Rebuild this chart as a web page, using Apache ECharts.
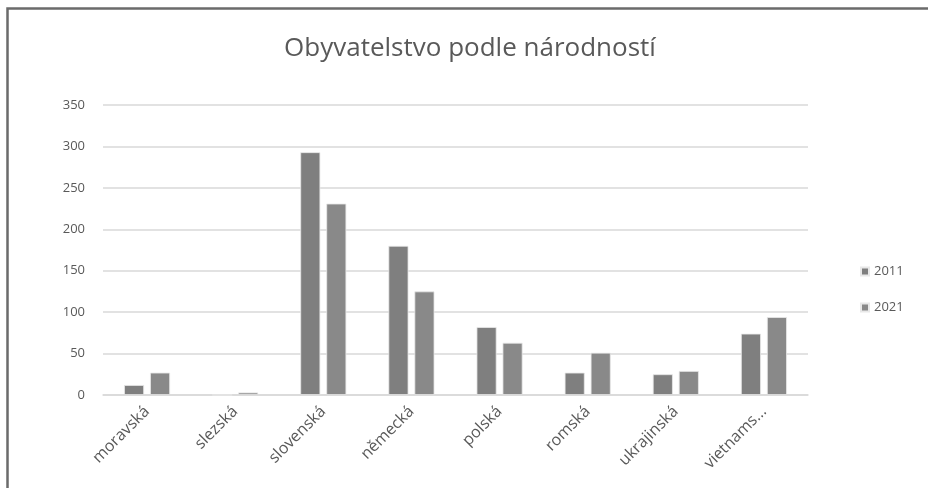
<!DOCTYPE html>
<html>
<head>
<meta charset="utf-8">
<script src="https://cdn.jsdelivr.net/npm/echarts@6/dist/echarts.min.js"></script>
<style>
  html, body { margin: 0; padding: 0; background: #fff; }
  #main { width: 928px; height: 488px; }
</style>
</head>
<body>
<div id="main"></div>
<script>
// data
var categories = ['moravská', 'slezská', 'slovenská', 'německá', 'polská', 'romská', 'ukrajinská', 'vietnams...'];
var values2011 = [12, 0, 293, 180, 82, 27, 25, 74];
var values2021 = [27, 3, 231, 125, 63, 51, 29, 94];
var yTicks = [0, 50, 100, 150, 200, 250, 300, 350];

var font = '"Open Sans", sans-serif';
var textColor = '#595959';

var myChart = echarts.init(document.getElementById('main'));

myChart.setOption({
  animation: false,
  backgroundColor: '#fff',
  title: {
    text: 'Obyvatelstvo podle národností',
    left: 465,
    textAlign: 'center',
    top: 31,
    textStyle: { fontFamily: font, fontSize: 26, fontWeight: 'normal', color: textColor }
  },
  // outer frame, only top and left edges fall inside the window
  graphic: [{
    type: 'rect',
    shape: { x: 7.5, y: 8.5, width: 940, height: 500 },
    style: { fill: 'none', stroke: '#6b6b6b', lineWidth: 2.5 },
    silent: true
  }],
  legend: {
    orient: 'vertical',
    left: 855,
    top: 260,
    itemGap: 23,
    itemWidth: 8,
    itemHeight: 8,
    icon: 'rect',
    textStyle: { fontFamily: font, fontSize: 13, color: textColor }
  },
  grid: { left: 103, right: 120, top: 105, bottom: 93, containLabel: false },
  xAxis: {
    type: 'category',
    data: categories,
    axisLine: { lineStyle: { color: '#d9d9d9', width: 1.5 } },
    axisTick: { show: false },
    axisLabel: {
      interval: 0,
      rotate: 45,
      margin: 14,
      fontFamily: font,
      fontSize: 16,
      color: textColor
    }
  },
  yAxis: {
    type: 'value',
    min: yTicks[0],
    max: yTicks[yTicks.length - 1],
    interval: 50,
    axisLine: { show: false },
    axisTick: { show: false },
    axisLabel: { fontFamily: font, fontSize: 13, color: textColor, margin: 18 },
    splitLine: { lineStyle: { color: '#d9d9d9', width: 1.5 } }
  },
  series: [{
    name: '2011',
    type: 'bar',
    data: values2011,
    barWidth: 20,
    barGap: '30%',
    itemStyle: { color: '#7f7f7f', borderColor: '#e8e8e8', borderWidth: 0.8 }
  }, {
    name: '2021',
    type: 'bar',
    data: values2021,
    barWidth: 20,
    itemStyle: { color: '#898989', borderColor: '#e8e8e8', borderWidth: 0.8 }
  }]
});
</script>
</body>
</html>
